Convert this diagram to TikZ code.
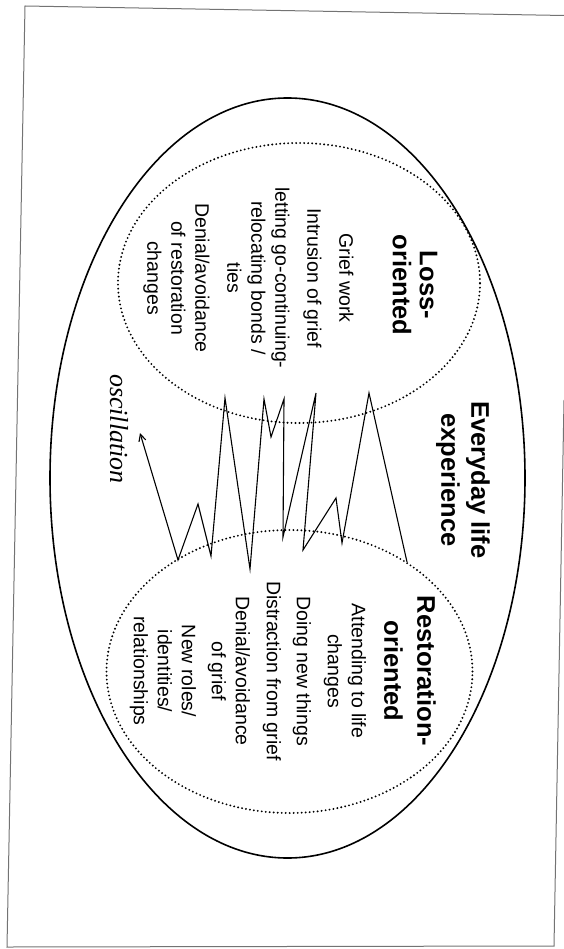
\documentclass[tikz,border=0pt]{standalone}
\usepackage{fontspec}
\setmainfont{Liberation Sans}
\newfontfamily\oscfont{Liberation Serif}
\usetikzlibrary{arrows.meta}
\tikzset{
  dotring/.style={line width=2.1pt, dash pattern=on 0pt off 4pt, line cap=round},
  headtxt/.style={rotate=-90, align=center, font=\fontsize{25.5}{28}\selectfont\bfseries},
  itemtxt/.style={rotate=-90, align=center, font=\fontsize{19.5}{24}\selectfont},
}
\begin{document}
\begin{tikzpicture}[x=1pt,y=-1pt]
\useasboundingbox (0,0) rectangle (564,949);
\draw[black!55,line width=1pt] (564,400) -- (554,946) -- (7,947) -- (25,6) -- (564,15.5);
\draw[line width=1.6pt] (287.5,478) ellipse [x radius=237.5pt, y radius=380pt];
\draw[dotring] (299,283) ellipse [x radius=181pt, y radius=140pt];
\draw[dotring] (289.5,671.5) ellipse [x radius=183pt, y radius=141.5pt];
\node[headtxt] (losshead) at (415,285) {Loss-\\[-1pt]oriented};
\node[itemtxt] (lossitems) at (248.5,278) {Grief work\\[8pt]Intrusion of grief\\[8pt]letting go-continuing-\\relocating bonds /\\ties\\[8pt]Denial/avoidance\\of restoration\\changes};
\node[headtxt] (resthead) at (410,671) {Restoration-\\[5pt]oriented};
\node[itemtxt] (restitems) at (248,671) {Attending to life\\changes\\[7pt]Doing new things\\[6pt]Distraction from grief\\[7pt]Denial/avoidance\\of grief\\[6pt]New roles/\\identities/\\relationships};
\node[headtxt] (everyday) at (463,480) {Everyday life\\[2pt]experience};
\node[rotate=-90,font=\fontsize{26}{30}\selectfont\oscfont\itshape] (osc) at (119,429) {oscillation};
\draw[line width=1.1pt,-{Straight Barb[length=7pt,width=7pt]}] (407,562) -- (369,393) -- (342,543) -- (336,498) -- (303,550) -- (316,393) -- (283,537) -- (284,399) -- (271,437) -- (264,399) -- (250,569) -- (225,398) -- (211,556) -- (198,504) -- (178,560) -- (140,433);
\end{tikzpicture}
\end{document}
